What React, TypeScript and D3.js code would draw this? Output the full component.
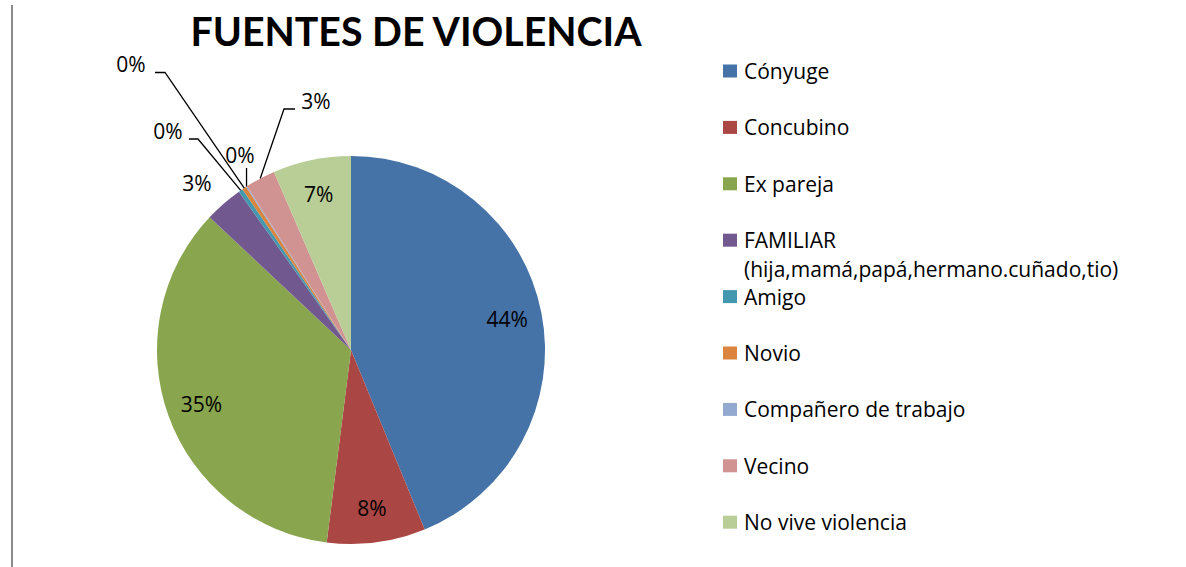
import React from "react";
import * as d3 from "d3";

const categories = [
  "Cónyuge",
  "Concubino",
  "Ex pareja",
  "FAMILIAR (hija,mamá,papá,hermano.cuñado,tio)",
  "Amigo",
  "Novio",
  "Compañero de trabajo",
  "Vecino",
  "No vive violencia",
];
const values = [43.8, 8.2, 35.0, 3.2, 0.35, 0.35, 0.1, 2.5, 6.5];
const colors = [
  "#4572A7",
  "#AA4643",
  "#89A54E",
  "#71588F",
  "#4198AF",
  "#DB843D",
  "#93A9CF",
  "#D19392",
  "#B9CD96",
];
const legendLines = [
  ["Cónyuge"],
  ["Concubino"],
  ["Ex pareja"],
  ["FAMILIAR", "(hija,mamá,papá,hermano.cuñado,tio)"],
  ["Amigo"],
  ["Novio"],
  ["Compañero de trabajo"],
  ["Vecino"],
  ["No vive violencia"],
];

// label layout: null = inside at centroid; otherwise text offset from pie centre and leader elbow
type Outer = { tx: number; ty: number; lx0?: number; lx1?: number; ly?: number; vertical?: boolean; noLine?: boolean } | null;
const outerLabels: Outer[] = [
  null,
  null,
  null,
  { tx: -154, ty: -167, noLine: true },
  { tx: -183, ty: -219, lx0: -162, lx1: -153, ly: -211 },
  { tx: -220, ty: -286, lx0: -196, lx1: -186, ly: -277.5 },
  { tx: -111, ty: -195, vertical: true, ly: -182 },
  { tx: -35, ty: -249, lx0: -56, lx1: -67, ly: -241 },
  null,
];

const TITLE_FONT = "Lato, 'Open Sans', sans-serif";
const FONT = "'Open Sans', Lato, sans-serif";
const FS = 21;

export default function App() {
  const W = 1186;
  const H = 567;
  const cx = 351;
  const cy = 350;
  const r = 194;

  const pie = d3
    .pie<number>()
    .sort(null)
    .value((d) => d);
  const arcs = pie(values);
  const arcGen = d3.arc<d3.PieArcDatum<number>>().innerRadius(0).outerRadius(r);

  const fmt = (v: number) => `${Math.round(v)}%`;

  return (
    <div style={{ position: "absolute", left: 0, top: 0 }}>
      <svg width={W} height={H} style={{ display: "block", background: "#fff" }}>
        <line x1={12} x2={12} y1={5} y2={H} stroke="#8c8c8c" strokeWidth={2} />
        <text
          x={416}
          y={46}
          textAnchor="middle"
          fontFamily={TITLE_FONT}
          fontWeight={700}
          fontSize={39.3}
          fill="#000"
        >
          FUENTES DE VIOLENCIA
        </text>
        <g transform={`translate(${cx},${cy})`}>
          {arcs.map((a, i) => (
            <path key={i} d={arcGen(a) || ""} fill={colors[i]} />
          ))}
          {arcs.map((a, i) => {
            const mid = (a.startAngle + a.endAngle) / 2;
            const ol = outerLabels[i];
            if (!ol) {
              const lr = r * 0.82;
              return (
                <text
                  key={"l" + i}
                  x={Math.sin(mid) * lr}
                  y={-Math.cos(mid) * lr}
                  textAnchor="middle"
                  dominantBaseline="central"
                  fontFamily={FONT}
                  fontSize={FS}
                  fill="#000"
                >
                  {fmt(values[i])}
                </text>
              );
            }
            const ex = Math.sin(mid) * r;
            const ey = -Math.cos(mid) * r;
            let pts = "";
            if (!ol.noLine) {
              if (ol.vertical) {
                pts = `${ex},${ey} ${ex},${ol.ly}`;
              } else {
                pts = `${ex},${ey} ${ol.lx1},${ol.ly} ${ol.lx0},${ol.ly}`;
              }
            }
            return (
              <g key={"l" + i}>
                {pts && <polyline points={pts} fill="none" stroke="#000" strokeWidth={1.3} />}
                <text
                  x={ol.tx}
                  y={ol.ty}
                  textAnchor="middle"
                  dominantBaseline="central"
                  fontFamily={FONT}
                  fontSize={FS}
                  fill="#000"
                >
                  {fmt(values[i])}
                </text>
              </g>
            );
          })}
        </g>
        <g>
          {legendLines.map((lines, i) => {
            const y = 71 + i * 56.4;
            return (
              <g key={"lg" + i}>
                <rect x={723} y={y - 6.5} width={14} height={13} fill={colors[i]} />
                {lines.map((t, j) => (
                  <text
                    key={j}
                    x={744}
                    y={y + j * 29}
                    dominantBaseline="central"
                    fontFamily={FONT}
                    fontSize={FS}
                    fill="#000"
                  >
                    {t}
                  </text>
                ))}
              </g>
            );
          })}
        </g>
      </svg>
    </div>
  );
}
